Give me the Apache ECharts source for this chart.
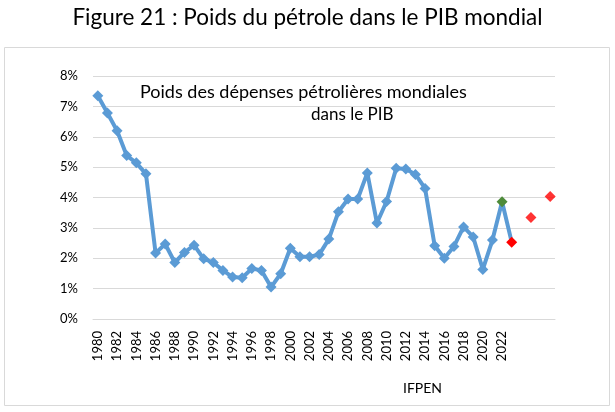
<!DOCTYPE html>
<html>
<head>
<meta charset="utf-8">
<script src="https://cdn.jsdelivr.net/npm/echarts@6/dist/echarts.min.js"></script>
<style>
  html, body { margin: 0; padding: 0; background: #fff; }
  #chart { width: 615px; height: 412px; }
</style>
</head>
<body>
<div id="chart"></div>
<script>
// années (catégories), les dernières sont des projections sans étiquette
const years = [
  '1980','1981','1982','1983','1984','1985','1986','1987','1988','1989',
  '1990','1991','1992','1993','1994','1995','1996','1997','1998','1999',
  '2000','2001','2002','2003','2004','2005','2006','2007','2008','2009',
  '2010','2011','2012','2013','2014','2015','2016','2017','2018','2019',
  '2020','2021','2022','2023','2024','2025','2026','2027'
]
const lastLabelYear = 2022

// poids des dépenses pétrolières dans le PIB (%)
const poids = [
  7.35, 6.78, 6.20, 5.38, 5.14, 4.78, 2.17, 2.47, 1.86, 2.19,
  2.43, 1.98, 1.86, 1.60, 1.38, 1.36, 1.66, 1.60, 1.05, 1.49,
  2.33, 2.05, 2.05, 2.12, 2.63, 3.53, 3.95, 3.95, 4.81, 3.16,
  3.87, 4.96, 4.94, 4.76, 4.30, 2.41, 2.00, 2.39, 3.03, 2.70,
  1.63, 2.60, 3.86, 2.53
]
const greenYear = '2022'
const redYear = '2023'

// projections (points rouges isolés)
const projYears = ['2025', '2027']
const projValues = [3.34, 4.03]

const yTicks = [0, 8, 1]

const FONT = 'Lato, "Open Sans", sans-serif'
const chart = echarts.init(document.getElementById('chart'))

const mainData = poids.map((v, i) => {
  if (years[i] === greenYear) return { value: v, itemStyle: { color: '#4E8B3A' } }
  if (years[i] === redYear) return { value: v, itemStyle: { color: '#FF0000' } }
  return v
})

chart.setOption({
  animation: false,
  textStyle: { fontFamily: FONT },
  graphic: [
    {
      type: 'rect',
      shape: { x: 4.5, y: 47.5, width: 605, height: 358 },
      style: { fill: 'none', stroke: '#d9d9d9', lineWidth: 1 },
      silent: true
    },
    {
      type: 'text', left: 'center', top: 6,
      style: { text: 'Figure 21 : Poids du pétrole dans le PIB mondial', fontSize: 22.5, fontFamily: FONT, fill: '#000' }
    },
    {
      type: 'text', x: 140, y: 83,
      style: { text: 'Poids des dépenses pétrolières mondiales', fontSize: 18, fontFamily: FONT, fill: '#000' }
    },
    {
      type: 'text', x: 311, y: 106,
      style: { text: 'dans le PIB', fontSize: 17, fontFamily: FONT, fill: '#000' }
    },
    {
      type: 'text', x: 403, y: 381,
      style: { text: 'IFPEN', fontSize: 14, fontFamily: FONT, fill: '#000' }
    }
  ],
  grid: { left: 93, right: 60, top: 76, bottom: 93, containLabel: false },
  xAxis: {
    type: 'category',
    data: years,
    boundaryGap: true,
    axisLine: { show: true, lineStyle: { color: '#d9d9d9' } },
    axisTick: { show: false },
    axisLabel: {
      interval: 1,
      rotate: 90,
      fontSize: 13,
      color: '#000',
      margin: 12,
      formatter: y => (+y <= lastLabelYear ? y : '')
    }
  },
  yAxis: {
    type: 'value',
    min: yTicks[0], max: yTicks[1], interval: yTicks[2],
    axisLine: { show: false },
    axisTick: { show: false },
    splitLine: { lineStyle: { color: '#d9d9d9' } },
    axisLabel: { formatter: '{value}%', fontSize: 13, color: '#000', margin: 15 }
  },
  series: [
    {
      name: 'Poids',
      type: 'line',
      data: mainData,
      showAllSymbol: true,
      symbol: 'diamond',
      symbolSize: 11,
      lineStyle: { color: '#5B9BD5', width: 4 },
      itemStyle: { color: '#5B9BD5' }
    },
    {
      name: 'Projections',
      type: 'scatter',
      data: projYears.map((y, i) => [y, projValues[i]]),
      symbol: 'diamond',
      symbolSize: 11,
      itemStyle: { color: '#FF0000' }
    }
  ]
})
</script>
</body>
</html>
